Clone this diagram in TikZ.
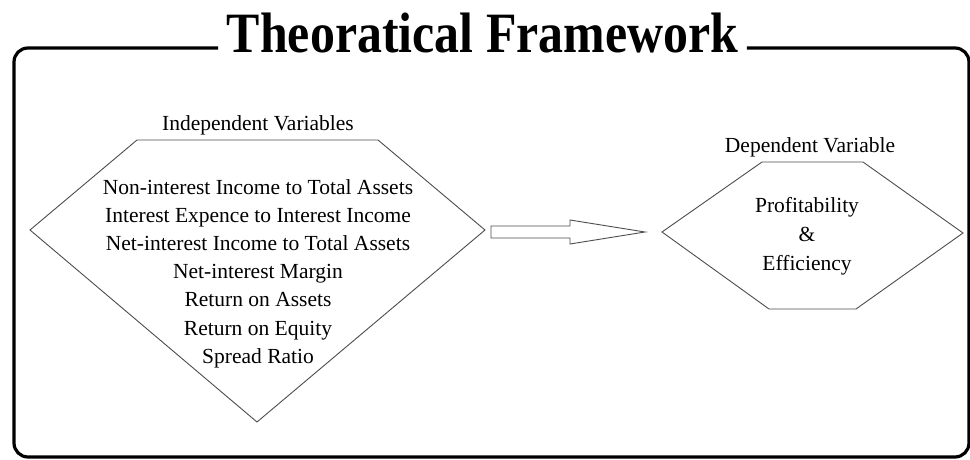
\documentclass[tikz,border=0pt]{standalone}
\usepackage{fontspec}
\setmainfont{Liberation Serif}
\usepackage{tikz}
\usetikzlibrary{positioning}
\tikzset{titlenode/.style={font=\bfseries\fontsize{57}{57}\selectfont, inner xsep=10pt, inner ysep=4pt, xscale=0.875},
headnode/.style={font=\fontsize{21.5}{26}\selectfont, inner sep=0pt},
varnode/.style={align=center, font=\fontsize{21.5}{28.2}\selectfont, inner sep=0pt},
frameline/.style={draw=black, line width=3.2pt, rounded corners=14pt},
shapeline/.style={draw=black!70, line width=0.9pt, line join=miter},}

\begin{document}
\begin{tikzpicture}[x=1pt, y=1pt]
\useasboundingbox (0,0) rectangle (970,459);
\node [titlenode, anchor=base] (title) at (482.5,406) {Theoratical Framework};
\coordinate (ftl) at (14,411);
\coordinate (fbl) at (14,2);
\coordinate (fbr) at (969,2);
\coordinate (ftr) at (969,411);
\draw[frameline] (title.west |- ftl) -- (ftl) -- (fbl) -- (fbr) -- (ftr) -- (title.east |- ftr);
% independent side
\coordinate (indTL) at (137,319);
\coordinate (indTR) at (378,319);
\coordinate (indR) at (485,229);
\coordinate (indB) at (257,37);
\coordinate (indL) at (30,229);
\draw[shapeline] (indTL) -- (indTR) -- (indR) -- (indB) -- (indL) -- cycle;
\node [headnode, anchor=base] (indhead) at (258,328) {Independent Variables};
\node [varnode] (indvars) at (258,185.5) {Non-interest Income to Total Assets\\
Interest Expence to Interest Income\\ Net-interest Income to Total Assets\\
Net-interest Margin\\ Return on Assets\\ Return on Equity\\ Spread Ratio};
% dependent side
\coordinate (depTL) at (762,297);
\coordinate (depTR) at (863,297);
\coordinate (depR) at (963,226);
\coordinate (depBR) at (856,150);
\coordinate (depBL) at (769,150);
\coordinate (depL) at (662,227);
\draw[shapeline] (depTL) -- (depTR) -- (depR) -- (depBR) -- (depBL) -- (depL) -- cycle;
\node [headnode, anchor=base] (dephead) at (810,306) {Dependent Variable};
\node [varnode, font=\fontsize{21.5}{28.8}\selectfont] (depvars) at (807,223) {Profitability\\ \&\\ Efficiency};
% arrow
\coordinate (tail) at ([xshift=6pt, yshift=-2pt]indR);
\draw[shapeline] (tail) ++(0,6) -- ++(79,0) -- ++(0,6) -- ++(75,-12) -- ++(-75,-12) -- ++(0,6) -- ++(-79,0) -- cycle;
\end{tikzpicture}
\end{document}
